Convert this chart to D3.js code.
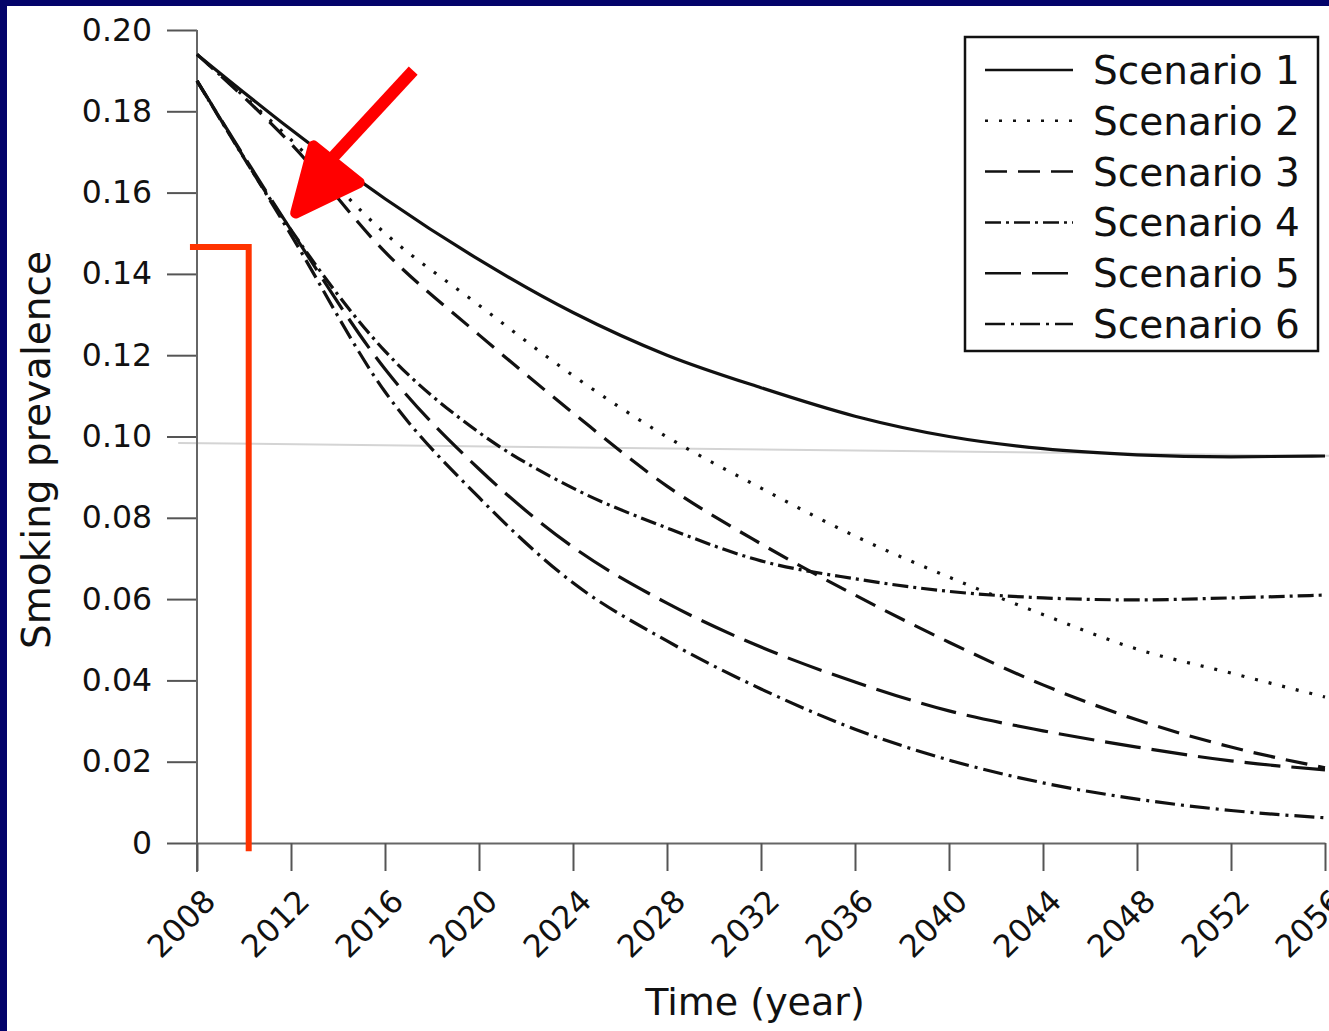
<!DOCTYPE html>
<html>
<head>
<meta charset="utf-8">
<script src="https://cdn.jsdelivr.net/npm/d3@7"></script>
<style>
    html, body { margin: 0; padding: 0; background: #fff; }
    svg { display: block; }
    text { font-family: "DejaVu Sans", sans-serif; fill: #111; }
</style>
</head>
<body>
<div id="chart"></div>
<script>
// years on the x axis
const years = [2008, 2012, 2016, 2020, 2024, 2028, 2032, 2036, 2040, 2044, 2048, 2052, 2056];
const yTicks = [0, 0.02, 0.04, 0.06, 0.08, 0.10, 0.12, 0.14, 0.16, 0.18, 0.20];
const yTickLabels = ['0', '0.02', '0.04', '0.06', '0.08', '0.10', '0.12', '0.14', '0.16', '0.18', '0.20'];
const scenarioNames = ['Scenario 1', 'Scenario 2', 'Scenario 3', 'Scenario 4', 'Scenario 5', 'Scenario 6'];

// prevalence, one value per year above
const scenario1 = [0.194, 0.1755, 0.1585, 0.1435, 0.1305, 0.1200, 0.112, 0.105, 0.100, 0.097, 0.0955, 0.095, 0.0952];
const scenario2 = [0.194, 0.173, 0.150, 0.1323, 0.115, 0.0999, 0.0873, 0.0755, 0.0654, 0.0562, 0.0477, 0.0418, 0.0359];
const scenario3 = [0.194, 0.172, 0.1454, 0.125, 0.1058, 0.0878, 0.0736, 0.061, 0.0494, 0.0389, 0.0303, 0.0236, 0.0185];
const scenario4 = [0.1875, 0.1508, 0.121, 0.101, 0.0873, 0.0775, 0.0694, 0.065, 0.0619, 0.0603, 0.0598, 0.0603, 0.061];
const scenario5 = [0.1875, 0.1508, 0.1166, 0.092, 0.0728, 0.059, 0.0482, 0.0396, 0.0325, 0.0276, 0.0236, 0.0202, 0.018];
const scenario6 = [0.1875, 0.1496, 0.111, 0.085, 0.064, 0.0497, 0.0379, 0.028, 0.0204, 0.0148, 0.0108, 0.008, 0.0062];
const allScenarios = [scenario1, scenario2, scenario3, scenario4, scenario5, scenario6];

// dash pattern per scenario (solid, dotted, dashed, dash-dot, long dash, dash-dot)
const dashes = [null, '3,11', '22,11', '16,5,3,5', '36,11', '20,6,3,6'];

const width = 1329, height = 1031;

const svg = d3.select('#chart')
    .append('svg')
    .attr('width', width)
    .attr('height', height);

// navy frame on the left and top edge
svg.append('rect').attr('x', 0).attr('y', 0).attr('width', width).attr('height', 6).attr('fill', '#03036a');
svg.append('rect').attr('x', 0).attr('y', 0).attr('width', 7).attr('height', height).attr('fill', '#03036a');

const x = d3.scaleLinear().domain([2008, 2056]).range([197, 1325]);
const y = d3.scaleLinear().domain([0, 0.2]).range([843, 30]);

// faint gray line across the plot (from the scanned figure)
svg.append('line')
    .attr('x1', x(2007.2)).attr('y1', y(0.0984))
    .attr('x2', x(2057)).attr('y2', y(0.0952))
    .attr('stroke', '#d4d4d4')
    .attr('stroke-width', 2);

// y axis
const yAxis = svg.append('g')
    .attr('transform', `translate(${x(2008)},0)`)
    .call(d3.axisLeft(y).tickValues(yTicks).tickFormat((d, i) => yTickLabels[i]).tickSize(30).tickPadding(15).tickSizeOuter(0));
yAxis.select('.domain').remove();
yAxis.append('line')
    .attr('x1', 0).attr('x2', 0)
    .attr('y1', y(0.2)).attr('y2', y(0) + 29)
    .attr('stroke', '#666').attr('stroke-width', 2);
yAxis.selectAll('.tick line').attr('stroke', '#555').attr('stroke-width', 2);
yAxis.selectAll('.tick text')
    .attr('font-size', 31.5)
    .attr('font-family', '"DejaVu Sans", sans-serif')
    .attr('fill', '#111');

// x axis
const xAxis = svg.append('g')
    .attr('transform', `translate(0,${y(0)})`)
    .call(d3.axisBottom(x).tickValues(years).tickFormat(d3.format('d')).tickSize(28).tickSizeOuter(0));
xAxis.select('.domain').attr('stroke', '#666').attr('stroke-width', 2);
xAxis.selectAll('.tick line').attr('stroke', '#555').attr('stroke-width', 2);
xAxis.selectAll('.tick text')
    .attr('font-size', 31.5)
    .attr('font-family', '"DejaVu Sans", sans-serif')
    .attr('fill', '#111')
    .attr('text-anchor', 'end')
    .attr('dy', null)
    .attr('y', 0)
    .attr('transform', 'translate(20,60) rotate(-45)');

// axis titles
svg.append('text')
    .attr('x', 755)
    .attr('y', 1015)
    .attr('text-anchor', 'middle')
    .attr('font-size', 38)
    .text('Time (year)');

svg.append('text')
    .attr('transform', 'translate(50,450) rotate(-90)')
    .attr('text-anchor', 'middle')
    .attr('font-size', 39)
    .text('Smoking prevalence');

// scenario lines
const line = d3.line()
    .x((d, i) => x(years[i]))
    .y(d => y(d))
    .curve(d3.curveMonotoneX);

svg.append('g')
    .selectAll('path')
    .data(allScenarios)
    .enter()
    .append('path')
    .attr('d', d => line(d))
    .attr('fill', 'none')
    .attr('stroke', '#111')
    .attr('stroke-width', 3.2)
    .attr('stroke-dasharray', (d, i) => dashes[i]);

// legend
const legend = svg.append('g');
legend.append('rect')
    .attr('x', 965).attr('y', 37)
    .attr('width', 353).attr('height', 314)
    .attr('fill', '#fff')
    .attr('stroke', '#111')
    .attr('stroke-width', 2.5);

const rows = legend.selectAll('g.row')
    .data(scenarioNames)
    .enter()
    .append('g')
    .attr('class', 'row')
    .attr('transform', (d, i) => `translate(0,${70 + i * 50.8})`);

rows.append('line')
    .attr('x1', 985).attr('x2', 1073)
    .attr('y1', 0).attr('y2', 0)
    .attr('stroke', '#111')
    .attr('stroke-width', 2.5)
    .attr('stroke-dasharray', (d, i) => dashes[i]);

rows.append('text')
    .attr('x', 1093)
    .attr('y', 14)
    .attr('font-size', 39)
    .text(d => d);

// red annotations drawn on top
const arrowTail = [2017.2, 0.19];
const arrowTip = [2012.2, 0.155];
const arrowWingA = [2012.95, 0.1715];
const arrowWingB = [2014.9, 0.1625];

svg.append('line')
    .attr('x1', x(arrowTail[0])).attr('y1', y(arrowTail[1]))
    .attr('x2', x(2012.8)).attr('y2', y(0.1625))
    .attr('stroke', '#ff0000')
    .attr('stroke-width', 12);

svg.append('path')
    .attr('d', d3.line()([arrowWingA, arrowTip, arrowWingB].map(p => [x(p[0]), y(p[1])])) + 'Z')
    .attr('fill', '#ff0000')
    .attr('stroke', '#ff0000')
    .attr('stroke-width', 11)
    .attr('stroke-linejoin', 'round')
    .attr('stroke-linecap', 'round');

// bracket marking the start
const bracket = [[2007.7, 0.1466], [2010.2, 0.1466], [2010.2, -0.002]];
svg.append('path')
    .attr('d', d3.line()(bracket.map(p => [x(p[0]), y(p[1])])))
    .attr('fill', 'none')
    .attr('stroke', '#ff3300')
    .attr('stroke-width', 6);
</script>
</body>
</html>
